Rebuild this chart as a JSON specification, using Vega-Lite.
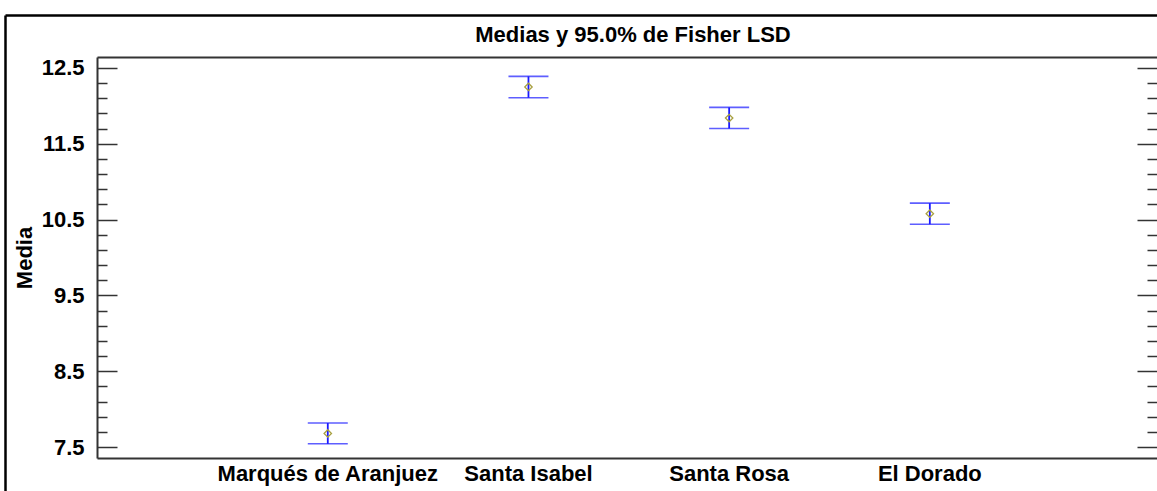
{
  "$schema": "https://vega.github.io/schema/vega-lite/v6.json",
  "autosize": {"type": "none"},
  "padding": {"left": 97, "top": 57, "right": 0, "bottom": 33},
  "width": 1060,
  "height": 401,
  "background": "white",
  "title": {
    "text": "Medias y 95.0% de Fisher LSD",
    "anchor": "middle",
    "frame": "group",
    "font": "Liberation Sans",
    "fontSize": 22,
    "fontWeight": "bold",
    "color": "#000000",
    "baseline": "alphabetic",
    "offset": -49,
    "dx": 6
  },
  "config": {
    "view": {"stroke": null},
    "axis": {"grid": false, "labelFont": "Liberation Sans", "titleFont": "Liberation Sans", "labelColor": "#000000", "titleColor": "#000000", "labelOverlap": false}
  },
  "data": {
    "values": [
      {"Grupo": "Marqués de Aranjuez", "Media": 7.679, "Inferior": 7.542, "Superior": 7.816},
      {"Grupo": "Santa Isabel", "Media": 12.25, "Inferior": 12.108, "Superior": 12.389},
      {"Grupo": "Santa Rosa", "Media": 11.84, "Inferior": 11.702, "Superior": 11.98},
      {"Grupo": "El Dorado", "Media": 10.578, "Inferior": 10.439, "Superior": 10.717}
    ]
  },
  "layer": [
    {
      "encoding": {
        "x": {
          "field": "Grupo", "type": "nominal", "sort": null,
          "scale": {"type": "band", "paddingInner": 0.518, "paddingOuter": 0.9, "align": 0.505},
          "axis": {"orient": "bottom", "title": null, "ticks": false, "labelAngle": 0, "labelPadding": 5, "labelLimit": 0,
                   "labelFontSize": 22, "labelFontWeight": "bold", "domain": true, "domainColor": "#333333", "domainWidth": 2}
        }
      },
      "layer": [
        {
          "mark": {"type": "rule", "color": "#1a1aff", "strokeWidth": 1.8},
          "encoding": {
            "y": {
              "field": "Inferior", "type": "quantitative",
              "scale": {"domain": [7.355, 12.645], "nice": false, "zero": false},
              "axis": {
                "orient": "left", "title": "Media", "titleFontSize": 22, "titleFontWeight": "bold", "titlePadding": 5,
                "values": [7.5, 8.5, 9.5, 10.5, 11.5, 12.5],
                "format": ".1f",
                "labelFontSize": 22, "labelFontWeight": "bold", "labelPadding": 13,
                "ticks": false,
                "domain": true, "domainColor": "#333333", "domainWidth": 2
              }
            },
            "y2": {"field": "Superior"}
          }
        },
        {
          "mark": {"type": "tick", "color": "#1a1aff", "size": 40, "thickness": 1.6},
          "encoding": {"y": {"field": "Inferior", "type": "quantitative"}}
        },
        {
          "mark": {"type": "tick", "color": "#1a1aff", "size": 40, "thickness": 1.6},
          "encoding": {"y": {"field": "Superior", "type": "quantitative"}}
        },
        {
          "mark": {"type": "point", "shape": "diamond", "filled": false, "color": "#a8a040", "size": 55, "strokeWidth": 1.3, "opacity": 1},
          "encoding": {"y": {"field": "Media", "type": "quantitative"}}
        }
      ]
    },
    {
      "mark": {"type": "point", "opacity": 0},
      "encoding": {
        "x": {
          "field": "Grupo", "type": "nominal", "sort": null,
          "scale": {"type": "point", "range": [-92, 1062]},
          "axis": {"orient": "top", "offset": 42, "ticks": false, "labels": false, "title": null, "domainColor": "#000000", "domainWidth": 2.5}
        },
        "y": {
          "field": "Media", "type": "quantitative",
          "scale": {"domain": [7.355, 12.645], "nice": false, "zero": false, "range": [434, -42]},
          "axis": {"orient": "left", "offset": 92, "ticks": false, "labels": false, "title": null, "domainColor": "#000000", "domainWidth": 2.5}
        }
      }
    },
    {
      "mark": {"type": "point", "opacity": 0},
      "encoding": {
        "x": {
          "field": "Grupo", "type": "nominal", "sort": null,
          "axis": {"orient": "top", "ticks": false, "labels": false, "title": null, "domainColor": "#333333", "domainWidth": 2}
        },
        "y": {
          "field": "Media", "type": "quantitative",
          "scale": {"domain": [7.355, 12.645], "nice": false, "zero": false},
          "axis": {
            "orient": "right", "title": null, "labels": false, "domain": false,
            "values": [7.5, 7.7, 7.9, 8.1, 8.3, 8.5, 8.7, 8.9, 9.1, 9.3, 9.5, 9.7, 9.9, 10.1, 10.3, 10.5, 10.7, 10.9, 11.1, 11.3, 11.5, 11.7, 11.9, 12.1, 12.3, 12.5],
            "tickSize": {"condition": {"test": "datum.value % 1 == 0.5", "value": -20}, "value": -10},
            "tickColor": "#333333", "tickWidth": 1.5
          }
        }
      }
    },
    {
      "mark": {"type": "point", "opacity": 0},
      "encoding": {
        "x": {"field": "Grupo", "type": "nominal", "sort": null, "axis": null},
        "y": {
          "field": "Media", "type": "quantitative",
          "scale": {"domain": [7.355, 12.645], "nice": false, "zero": false},
          "axis": {
            "orient": "left", "title": null, "labels": false, "domain": false,
            "values": [7.5, 7.7, 7.9, 8.1, 8.3, 8.5, 8.7, 8.9, 9.1, 9.3, 9.5, 9.7, 9.9, 10.1, 10.3, 10.5, 10.7, 10.9, 11.1, 11.3, 11.5, 11.7, 11.9, 12.1, 12.3, 12.5],
            "tickSize": {"condition": {"test": "datum.value % 1 == 0.5", "value": -20}, "value": -10},
            "tickColor": "#333333", "tickWidth": 1.5
          }
        }
      }
    }
  ],
  "resolve": {"scale": {"x": "independent", "y": "independent"}}
}
